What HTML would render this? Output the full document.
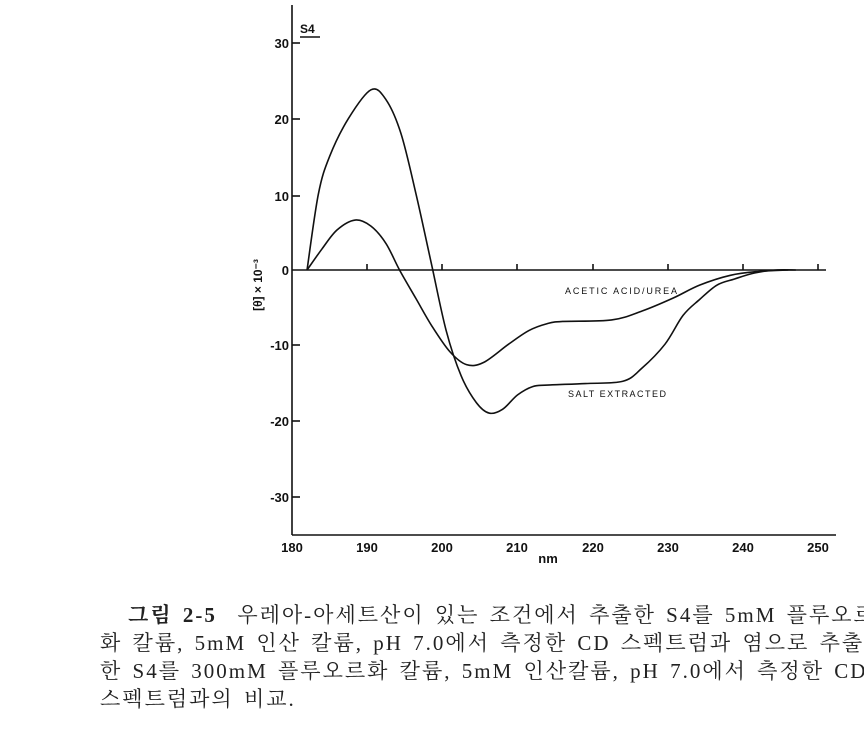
<!DOCTYPE html>
<html><head><meta charset="utf-8"><style>
html,body{margin:0;padding:0;background:#fff;width:864px;height:746px;overflow:hidden;position:relative}
.cap{position:absolute;left:0;width:864px;white-space:nowrap;overflow:hidden;font-family:"Liberation Serif","Noto Serif CJK SC",serif;font-size:21px;letter-spacing:2px;word-spacing:3px;color:#222;box-sizing:border-box}
</style></head><body>
<svg width="864" height="580" style="position:absolute;left:0;top:0" font-family="Liberation Sans, sans-serif">
<g stroke="#111" stroke-width="1.6" fill="none">
<line x1="292" y1="5" x2="292" y2="535"/>
<line x1="292" y1="535" x2="836" y2="535"/>
<line x1="292" y1="270" x2="826" y2="270"/>
<line x1="292" y1="43" x2="300" y2="43"/><line x1="292" y1="119" x2="300" y2="119"/><line x1="292" y1="196" x2="300" y2="196"/>
<line x1="292" y1="345" x2="300" y2="345"/><line x1="292" y1="421" x2="300" y2="421"/><line x1="292" y1="497" x2="300" y2="497"/>
<line x1="367" y1="270" x2="367" y2="264"/><line x1="442" y1="270" x2="442" y2="264"/><line x1="517" y1="270" x2="517" y2="264"/>
<line x1="593" y1="270" x2="593" y2="264"/><line x1="668" y1="270" x2="668" y2="264"/><line x1="743" y1="270" x2="743" y2="264"/><line x1="818" y1="270" x2="818" y2="264"/>
<line x1="300" y1="37" x2="320" y2="37"/>
<path id="p1"/><path id="p2"/>
</g>
<g font-size="13" font-weight="bold" fill="#111" text-anchor="end">
<text x="289" y="48">30</text><text x="289" y="124">20</text><text x="289" y="201">10</text><text x="289" y="275">0</text>
<text x="289" y="350">-10</text><text x="289" y="426">-20</text><text x="289" y="502">-30</text>
</g>
<g font-size="13" font-weight="bold" fill="#111" text-anchor="middle">
<text x="292" y="552">180</text><text x="367" y="552">190</text><text x="442" y="552">200</text><text x="517" y="552">210</text>
<text x="593" y="552">220</text><text x="668" y="552">230</text><text x="743" y="552">240</text><text x="818" y="552">250</text>
<text x="548" y="563">nm</text>
</g>
<text x="300" y="33" font-size="12" font-weight="bold" fill="#111">S4</text>
<text transform="translate(262,285) rotate(-90)" font-size="12" font-weight="bold" fill="#111" text-anchor="middle">[θ] × 10⁻³</text>
<text x="565" y="294" font-size="9" fill="#111" textLength="112">ACETIC ACID/UREA</text>
<text x="568" y="397" font-size="9" fill="#111" textLength="98">SALT EXTRACTED</text>
</svg>
<div class="cap" style="top:599px;padding-left:128px"><b>그림 2-5</b>&nbsp;&nbsp;우레아-아세트산이 있는 조건에서 추출한 S4를 5mM 플루오르</div>
<div class="cap" style="top:627px;padding-left:100px">화 칼륨, 5mM 인산 칼륨, pH 7.0에서 측정한 CD 스펙트럼과 염으로 추출</div>
<div class="cap" style="top:655px;padding-left:100px">한 S4를 300mM 플루오르화 칼륨, 5mM 인산칼륨, pH 7.0에서 측정한 CD</div>
<div class="cap" style="top:683px;padding-left:100px">스펙트럼과의 비교.</div>
<script>
function X(n){return 292+(n-180)*7.52}function Y(v){return 270-v*7.57}
function cr(pts){var p=pts.map(function(a){return[X(a[0]),Y(a[1])]});var d="M"+p[0][0]+","+p[0][1];
for(var i=0;i<p.length-1;i++){var p0=p[i-1]||p[i],p1=p[i],p2=p[i+1],p3=p[i+2]||p2;
d+=" C"+(p1[0]+(p2[0]-p0[0])/6)+","+(p1[1]+(p2[1]-p0[1])/6)+" "+(p2[0]-(p3[0]-p1[0])/6)+","+(p2[1]-(p3[1]-p1[1])/6)+" "+p2[0]+","+p2[1];}return d;}
document.getElementById("p1").setAttribute("d",cr([[182,0],[183.5,10],[185,15],[187.5,20],[190.5,23.8],[192.5,22.5],[194.5,18],[196.5,10],[198.5,1],[200.5,-8],[202.5,-14],[204.5,-17.5],[206.2,-18.9],[208,-18.4],[210,-16.5],[212,-15.4],[214,-15.2],[219,-15],[224,-14.7],[226.5,-13],[229.6,-9.8],[232,-6],[234.2,-3.9],[236.5,-2],[238.8,-1.2],[241.5,-0.4],[244.4,0],[247,0]]));
document.getElementById("p2").setAttribute("d",cr([[182,0],[184,2.8],[186,5.3],[188.4,6.6],[190.5,5.8],[192.5,3.5],[194.3,0],[196.5,-3.8],[198.6,-7.4],[201,-10.8],[203.2,-12.5],[205.5,-12.2],[208.8,-9.8],[211.5,-8],[213.9,-7.1],[216,-6.8],[222.5,-6.6],[226.6,-5.4],[230.7,-3.7],[234.2,-2],[238.3,-0.7],[242,-0.2],[246,0]]));
</script>
</body></html>
